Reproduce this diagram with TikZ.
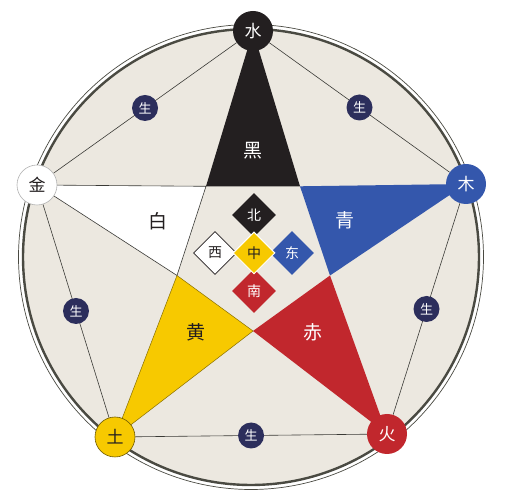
\documentclass[tikz,border=0pt]{standalone}
\usepackage{fontspec}
\setmainfont{Noto Sans CJK SC}
\usetikzlibrary{shapes.geometric}
\definecolor{bgbeige}{HTML}{ECE8E0}
\definecolor{ringgray}{HTML}{4A4A42}
\definecolor{inkblack}{HTML}{231F20}
\definecolor{wxblue}{HTML}{3457AC}
\definecolor{wxred}{HTML}{C1272D}
\definecolor{wxyellow}{HTML}{F7C900}
\definecolor{wxnavy}{HTML}{2C2E5C}
\definecolor{lineg}{HTML}{3A3A36}
\pgfdeclarelayer{back}
\pgfsetlayers{back,main}
\tikzset{
  elem/.style={circle, minimum size=40pt, inner sep=0pt, font=\fontsize{17}{17}\selectfont},
  sheng/.style={circle, fill=wxnavy, text=white, minimum size=26pt, inner sep=0pt, font=\fontsize{13}{13}\selectfont},
  chord/.style={draw=lineg, line width=0.6pt},
  colorlabel/.style={font=\fontsize{19}{19}\selectfont, inner sep=0pt},
  dir/.style={diamond, aspect=1, minimum width=44pt, minimum height=44pt, inner sep=0pt, font=\fontsize{14}{14}\selectfont},
}
\begin{document}
\begin{tikzpicture}[x=1pt,y=-1pt]
\useasboundingbox (0,0) rectangle (515,494);
% vertex positions
\coordinate (cS) at (253,31);
\coordinate (cM) at (466,184);
\coordinate (cH) at (387,434);
\coordinate (cT) at (115,437);
\coordinate (cJ) at (37,185);
% inner pentagon vertices
\coordinate (P1) at (206,186.3);
\coordinate (P2) at (300,186.3);
\coordinate (P3) at (330,275.5);
\coordinate (P4) at (253,331);
\coordinate (P5) at (177,275.5);
% element circles
\node[elem, fill=inkblack, text=white] (S) at (cS) {水};
\node[elem, fill=wxblue, text=white] (M) at (cM) {木};
\node[elem, fill=wxred, text=white] (H) at (cH) {火};
\node[elem, fill=wxyellow, draw=black!55!wxyellow, line width=0.6pt, text=inkblack] (T) at (cT) {土};
\node[elem, fill=white, draw=black!30, line width=0.6pt, text=inkblack] (J) at (cJ) {金};
\begin{pgfonlayer}{back}
  \fill[bgbeige] (251,257) circle[radius=228pt];
  \draw[ringgray, line width=2.4pt] (251,257) circle[radius=228pt];
  \draw[ringgray, line width=0.7pt] (251,257) circle[radius=232.5pt];
  % star points
  \fill[inkblack] (cS) -- (P1) -- (P2) -- cycle;
  \fill[wxblue] (cM) -- (P2) -- (P3) -- cycle;
  \fill[wxred] (cH) -- (P3) -- (P4) -- cycle;
  \filldraw[fill=wxyellow, draw=black!45!wxyellow, line width=0.5pt] (cT) -- (P4) -- (P5) -- cycle;
  \filldraw[fill=white, draw=lineg, line width=0.6pt] (cJ) -- (P5) -- (P1) -- cycle;
  % generating cycle
  \draw[chord] (S) -- (M) node[sheng, midway] (g1) {生};
  \draw[chord] (M) -- (H) node[sheng, midway] (g2) {生};
  \draw[chord] (H) -- (T) node[sheng, midway] (g3) {生};
  \draw[chord] (T) -- (J) node[sheng, midway] (g4) {生};
  \draw[chord] (J) -- (S) node[sheng, midway] (g5) {生};
\end{pgfonlayer}
% colour labels
\node[colorlabel, text=white] (kHei) at (253,151) {黑};
\node[colorlabel, text=inkblack] (kBai) at (158,221) {白};
\node[colorlabel, text=white] (kQing) at (345,220) {青};
\node[colorlabel, text=inkblack] (kHuang) at (196,332) {黄};
\node[colorlabel, text=white] (kChi) at (313,332) {赤};
% directions
\node[dir, fill=inkblack, text=white] (dN) at (254,215) {北};
\node[dir, fill=white, draw=inkblack, line width=0.6pt, text=inkblack, minimum width=43pt, minimum height=43pt] (dW) at (215,253) {西};
\node[dir, fill=wxblue, text=white] (dE) at (292,253) {东};
\node[dir, fill=wxred, text=white] (dS) at (254,291) {南};
\node[dir, fill=wxyellow, draw=white, line width=1pt, text=inkblack, minimum width=42pt, minimum height=42pt] (dC) at (254,253) {中};
\end{tikzpicture}
\end{document}
